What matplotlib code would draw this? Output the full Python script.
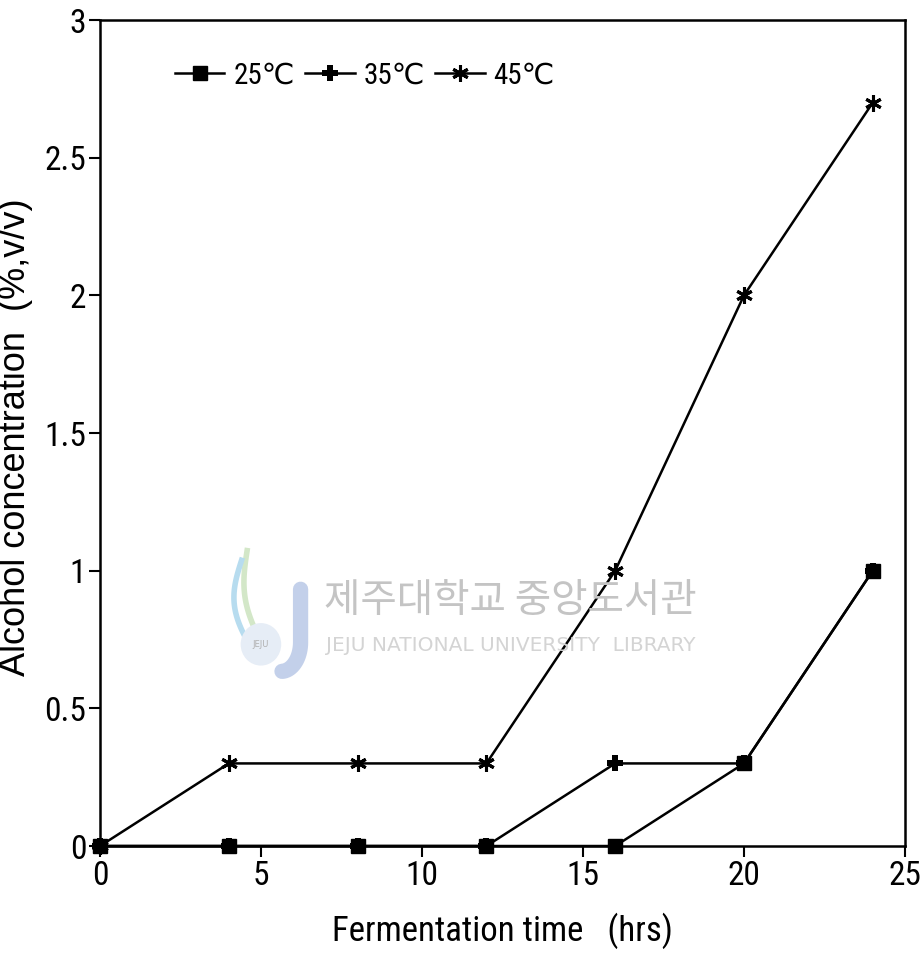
import numpy as np
import matplotlib.pyplot as plt
from matplotlib.patches import Circle

# fermentation data
hours = [0, 4, 8, 12, 16, 20, 24]
alc_25 = [0, 0, 0, 0, 0, 0.3, 1.0]
alc_35 = [0, 0, 0, 0, 0.3, 0.3, 1.0]
alc_45 = [0, 0.3, 0.3, 0.3, 1.0, 2.0, 2.7]
labels = ['25\u2103', '35\u2103', '45\u2103']

narrow = ['Roboto Condensed', 'Archivo Narrow', 'PT Sans Narrow', 'DejaVu Sans']
plt.rcParams['font.family'] = narrow

fig = plt.figure(figsize=(9.22, 9.66), dpi=100)
ax = fig.add_axes([0.1085, 0.1242, 0.873, 0.855])

# library watermark behind the data
fig.text(0.554, 0.378, '제주대학교 중앙도서관', family=['Noto Sans CJK KR'],
         fontsize=28.5, color='#c4c4c4', ha='center', va='center', zorder=0)
fig.text(0.554, 0.332, 'JEJU NATIONAL UNIVERSITY  LIBRARY', family=['DejaVu Sans'],
         fontsize=14.5, color='#d4d4d4', ha='center', va='center', zorder=0)
t = np.linspace(0, np.pi, 40)
jx = np.r_[[0.326, 0.326], 0.305 + 0.021 * np.cos(t[:20])]
jy = np.r_[[0.39, 0.335], 0.335 - 0.03 * np.sin(t[:20])]
fig.lines.append(plt.Line2D(jx, jy, transform=fig.transFigure, color='#c3d0ea',
                            lw=11, solid_capstyle='round', zorder=0))
s = np.linspace(0, 1, 40)
fig.lines.append(plt.Line2D(0.268 - 0.012 * np.sin(s * 3.0) + 0.02 * s, 0.43 - 0.1 * s,
                            transform=fig.transFigure, color='#d3e7c8', lw=4, zorder=0))
fig.lines.append(plt.Line2D(0.262 - 0.014 * np.sin(s * 3.0) + 0.012 * s, 0.42 - 0.09 * s,
                            transform=fig.transFigure, color='#b7dcef', lw=4, zorder=0))
fig.patches.append(Circle((0.283, 0.333), 0.022, transform=fig.transFigure,
                          fc='#e6edf6', ec='none', zorder=0))
fig.text(0.283, 0.333, 'JEJU', family=['DejaVu Sans'], fontsize=6, color='#b0b0b0',
         ha='center', va='center', zorder=0)

ax.patch.set_alpha(0)
ax.plot(hours, alc_45, color='black', lw=1.8, marker=(6, 2, 0), ms=12, mew=2.2,
        label=labels[2], zorder=3, clip_on=False)
ax.plot(hours, alc_35, color='black', lw=1.8, marker='P', ms=11, mew=0,
        label=labels[1], zorder=3, clip_on=False)
ax.plot(hours, alc_25, color='black', lw=1.8, marker='s', ms=10,
        label=labels[0], zorder=4, clip_on=False)

ax.set_xlim(0, 25)
ax.set_ylim(0, 3)
ax.set_xticks([0, 5, 10, 15, 20, 25])
ax.set_yticks([0, 0.5, 1, 1.5, 2, 2.5, 3])
ax.set_yticklabels(['0', '0.5', '1', '1.5', '2', '2.5', '3'])
ax.tick_params(direction='out', length=8, width=1.5, labelsize=24, pad=2)
for sp in ax.spines.values():
    sp.set_linewidth(1.8)

ax.set_xlabel('Fermentation time   (hrs)', fontsize=25)
ax.xaxis.set_label_coords(0.5, -0.081)
ax.set_ylabel('Alcohol concentration  (%,v/v)',
              family=['Liberation Sans', 'Arimo', 'DejaVu Sans'], fontsize=26)
ax.yaxis.set_label_coords(-0.083, 0.495)

h, l = ax.get_legend_handles_labels()
ax.legend(h[::-1], l[::-1], loc='center left', bbox_to_anchor=(0.093, 0.933), ncol=3,
          frameon=False, fontsize=21, handlelength=1.7, handletextpad=0.3,
          columnspacing=0.35, borderaxespad=0, borderpad=0)

fig.savefig('out.png', dpi=100)
